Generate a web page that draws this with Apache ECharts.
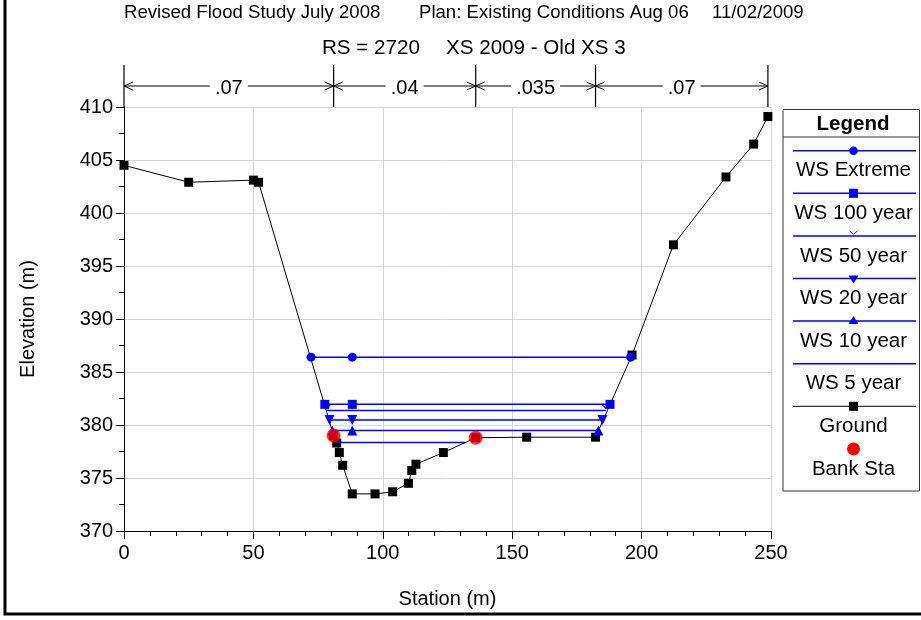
<!DOCTYPE html>
<html>
<head>
<meta charset="utf-8">
<script src="https://cdn.jsdelivr.net/npm/echarts@6/dist/echarts.min.js"></script>
<style>
html,body{margin:0;padding:0;background:#fff}
#chart{width:921px;height:620px}
</style>
</head>
<body>
<div id="chart"></div>
<script>
// Cross section RS 2720 - station (m), elevation (m)
const ground = [[0,404.5],[25,402.9],[50,403.1],[52,402.9],[81.0,379.0],[82.2,378.3],[83.2,377.4],[84.5,376.2],[88.2,373.5],[97.0,373.5],[103.8,373.7],[109.9,374.5],[111.2,375.7],[112.8,376.3],[123.4,377.4],[135.9,378.8],[155.6,378.85],[182.2,378.85],[196.3,386.6],[212.3,397.0],[232.6,403.4],[243.3,406.5],[248.8,409.1]];
const bankStations = [[81.0,379.0],[135.9,378.8]];

// Water surface profiles
const wsExtreme = [[72.3,386.4],[88.2,386.4],[195.8,386.4]];
const ws100 = [[77.6,381.95],[88.2,381.95],[187.8,381.95]];
const ws50 = [[78.2,381.37],[88.2,381.37],[186.2,381.37]];
const ws20 = [[79.4,380.46],[88.2,380.46],[184.9,380.46]];
const ws10 = [[80.5,379.47],[88.2,379.47],[183.3,379.47]];
const ws5 = [[82.1,378.34],[131.8,378.34]];

// Manning's n zones
const nStations = [0, 81.0, 135.9, 182.2, 248.8];
const nValues = ['.07', '.04', '.035', '.07'];
const nBarElevation = 413.0;

const legendNames = ['WS Extreme','WS 100 year','WS 50 year','WS 20 year','WS 10 year','WS 5 year','Ground','Bank Sta'];

const FONT = 'Liberation Sans, Arial, sans-serif';
const BLUE = '#0000ff';
const chevron = 'path://M0,0L5,5L10,0';

const chart = echarts.init(document.getElementById('chart'), null, {renderer:'canvas'});

function wsSeries(name, data, symbol, size, extra) {
  return Object.assign({
    name, type:'line', data, symbol, symbolSize:size,
    lineStyle:{color:BLUE, width:1.5},
    itemStyle:{color:BLUE},
    z:3
  }, extra || {});
}

chart.setOption({
  animation:false,
  textStyle:{fontFamily:FONT},
  grid:{left:124, right:150, top:107, bottom:89},
  xAxis:{
    type:'value', min:0, max:250, interval:50,
    axisLine:{lineStyle:{color:'#000', width:1}},
    axisTick:{length:8, lineStyle:{color:'#000'}},
    minorTick:{show:true, splitNumber:5, length:5, lineStyle:{color:'#000'}},
    splitLine:{show:true, lineStyle:{color:'#d4d4d4', width:1}},
    axisLabel:{fontSize:20, color:'#000', margin:12, fontFamily:FONT},
    name:'Station (m)', nameLocation:'middle', nameGap:58,
    nameTextStyle:{fontSize:20, color:'#000', fontFamily:FONT}
  },
  yAxis:{
    type:'value', min:370, max:410, interval:5,
    axisLine:{show:true, lineStyle:{color:'#000', width:1}},
    axisTick:{show:true, length:8, lineStyle:{color:'#000'}},
    minorTick:{show:true, splitNumber:2, length:5, lineStyle:{color:'#000'}},
    splitLine:{show:true, lineStyle:{color:'#d4d4d4', width:1}},
    axisLabel:{fontSize:20, color:'#000', margin:11, fontFamily:FONT},
    name:'Elevation (m)', nameLocation:'middle', nameGap:86,
    nameTextStyle:{fontSize:20, color:'#000', fontFamily:FONT}
  },
  series:[
    {name:'Ground', type:'line', data:ground, symbol:'rect', symbolSize:9,
      lineStyle:{color:'#000', width:1}, itemStyle:{color:'#000'}, z:2},
    wsSeries('WS 5 year', ws5, 'none', 0, {showSymbol:false}),
    wsSeries('WS 10 year', ws10, 'triangle', 10),
    wsSeries('WS 20 year', ws20, 'triangle', 10, {symbolRotate:180}),
    wsSeries('WS 50 year', ws50, chevron, [8,4], {symbolOffset:[0,-4], itemStyle:{color:'rgba(0,0,0,0)', borderColor:BLUE, borderWidth:1}}),
    wsSeries('WS 100 year', ws100, 'rect', 9),
    wsSeries('WS Extreme', wsExtreme, 'circle', 9),
    {name:'Bank Sta', type:'scatter', data:bankStations, symbol:'circle', symbolSize:14,
      itemStyle:{color:'#ff0000'}, z:5}
  ]
});

// Decorations: titles, Manning's n bar, legend box and outer frame
const g = [];
g.push({type:'text', left:124, top:3, style:{text:'Revised Flood Study July 2008', font:'18.6px ' + FONT, fill:'#000'}});
g.push({type:'text', left:419, top:3, style:{text:'Plan: Existing Conditions Aug 06', font:'18.6px ' + FONT, fill:'#000'}});
g.push({type:'text', left:712, top:3, style:{text:'11/02/2009', font:'18.6px ' + FONT, fill:'#000'}});
g.push({type:'text', left:322, top:38, style:{text:'RS = 2720', font:'20.6px ' + FONT, fill:'#000'}});
g.push({type:'text', left:446, top:38, style:{text:'XS 2009 - Old XS 3', font:'20.6px ' + FONT, fill:'#000'}});

const barY = 86;
const nx = nStations.map(s => chart.convertToPixel({gridIndex:0}, [s, nBarElevation])[0]);
nx.forEach(x => g.push({type:'line', shape:{x1:x, y1:65, x2:x, y2:107}, style:{stroke:'#000', lineWidth:1.2}}));
for (let i = 0; i < nValues.length; i++) {
  const a = nx[i], b = nx[i+1], mid = (a + b) / 2;
  const half = (nValues[i].length === 3 ? 28 : 39) / 2 + 5;
  g.push({type:'line', shape:{x1:a, y1:barY, x2:mid - half, y2:barY}, style:{stroke:'#000', lineWidth:1}});
  g.push({type:'line', shape:{x1:mid + half, y1:barY, x2:b, y2:barY}, style:{stroke:'#000', lineWidth:1}});
  g.push({type:'polyline', shape:{points:[[a+9,barY-4],[a,barY],[a+9,barY+4]]}, style:{stroke:'#000', fill:null, lineWidth:1}});
  g.push({type:'polyline', shape:{points:[[b-9,barY-4],[b,barY],[b-9,barY+4]]}, style:{stroke:'#000', fill:null, lineWidth:1}});
  g.push({type:'text', x:mid, y:barY + 2, style:{text:nValues[i], font:'20px ' + FONT, fill:'#000', textAlign:'center', textVerticalAlign:'middle'}});
}

// Legend panel
const lx1 = 783, lx2 = 919.5, ly1 = 109.5, ly2 = 491;
g.push({type:'rect', shape:{x:lx1, y:ly1, width:lx2 - lx1, height:ly2 - ly1}, style:{fill:'#fff', stroke:'#333', lineWidth:1}});
g.push({type:'line', shape:{x1:lx1, y1:137, x2:lx2, y2:137}, style:{stroke:'#333', lineWidth:1}});
g.push({type:'text', x:853, y:124, style:{text:'Legend', font:'bold 20.5px ' + FONT, fill:'#000', textAlign:'center', textVerticalAlign:'middle'}});
const cx = 853.5;
legendNames.forEach((name, i) => {
  const yl = 150.7 + i * 42.6, yt = 170.7 + i * 42.6;
  if (i < 6) g.push({type:'line', shape:{x1:793, y1:yl, x2:916, y2:yl}, style:{stroke:BLUE, lineWidth:1.5}});
  if (i === 6) g.push({type:'line', shape:{x1:793, y1:yl, x2:916, y2:yl}, style:{stroke:'#000', lineWidth:1}});
  if (i === 0) g.push({type:'circle', shape:{cx:cx, cy:yl, r:4.3}, style:{fill:BLUE}});
  if (i === 1) g.push({type:'rect', shape:{x:cx-4.5, y:yl-4.5, width:9, height:9}, style:{fill:BLUE}});
  if (i === 2) g.push({type:'polyline', shape:{points:[[cx-4,yl-5],[cx,yl-1.5],[cx+4,yl-5]]}, style:{stroke:BLUE, fill:null, lineWidth:1}});
  if (i === 3) g.push({type:'polygon', shape:{points:[[cx-5,yl-3],[cx+5,yl-3],[cx,yl+5]]}, style:{fill:BLUE}});
  if (i === 4) g.push({type:'polygon', shape:{points:[[cx-5,yl+3],[cx+5,yl+3],[cx,yl-5]]}, style:{fill:BLUE}});
  if (i === 6) g.push({type:'rect', shape:{x:cx-4.5, y:yl-4.5, width:9, height:9}, style:{fill:'#000'}});
  if (i === 7) g.push({type:'circle', shape:{cx:cx, cy:yl, r:6.5}, style:{fill:'#ff0000'}});
  g.push({type:'text', x:cx, y:yt, style:{text:name, font:'20.5px ' + FONT, fill:'#000', textAlign:'center', textVerticalAlign:'middle'}});
});

// Outer frame
g.push({type:'rect', shape:{x:5, y:-10, width:930, height:624}, style:{fill:null, stroke:'#000', lineWidth:3}});

chart.setOption({graphic:{elements:g}});
</script>
</body>
</html>
